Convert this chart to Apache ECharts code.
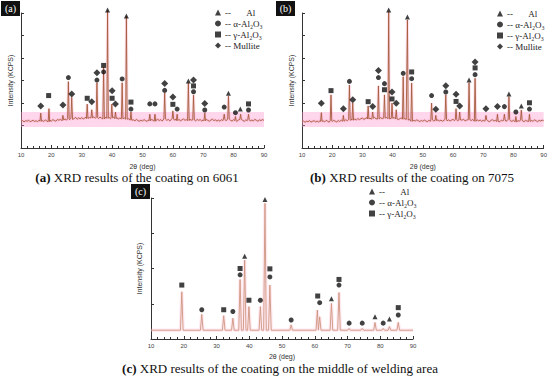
<!DOCTYPE html>
<html><head><meta charset="utf-8">
<script src="https://cdn.jsdelivr.net/npm/echarts@6/dist/echarts.min.js"></script>
<style>html,body{margin:0;padding:0;background:#fff}#c{width:550px;height:378px}</style>
</head><body><div id="c"></div>
<script>
// baseline samples from 10° to 90°, step 0.5°
const noiseA = [
1.18,1.22,1.16,1.21,1.19,1.24,1.17,1.20,1.23,1.18,
1.21,1.17,1.24,1.19,1.22,1.18,1.25,1.20,1.17,1.23,
1.20,1.26,1.22,1.19,1.27,1.23,1.28,1.21,1.25,1.29,
1.24,1.30,1.26,1.33,1.27,1.31,1.36,1.28,1.34,1.30,
1.35,1.29,1.33,1.38,1.31,1.36,1.30,1.34,1.39,1.32,
1.36,1.31,1.37,1.33,1.29,1.35,1.38,1.32,1.36,1.30,
1.34,1.38,1.31,1.35,1.29,1.33,1.37,1.30,1.34,1.28,
1.26,1.30,1.24,1.20,1.25,1.21,1.27,1.22,1.19,1.24,
1.20,1.26,1.22,1.18,1.25,1.21,1.27,1.23,1.19,1.24,
1.28,1.22,1.26,1.20,1.25,1.29,1.23,1.27,1.21,1.26,
1.30,1.24,1.28,1.22,1.27,1.21,1.25,1.29,1.23,1.26,
1.22,1.28,1.24,1.30,1.25,1.21,1.27,1.23,1.26,1.20,
1.25,1.21,1.27,1.23,1.19,1.24,1.28,1.22,1.25,1.20,
1.24,1.19,1.26,1.22,1.27,1.21,1.25,1.29,1.23,1.20,
1.26,1.22,1.18,1.24,1.21,1.27,1.23,1.19,1.25,1.22,
1.26,1.20,1.24,1.21,1.27,1.23,1.19,1.25,1.22,1.26,
1.23];
const noiseB = [
1.16,1.20,1.14,1.19,1.17,1.22,1.15,1.19,1.21,1.16,
1.20,1.15,1.22,1.18,1.21,1.16,1.23,1.19,1.15,1.21,
1.18,1.23,1.19,1.16,1.22,1.18,1.24,1.19,1.22,1.26,
1.21,1.27,1.23,1.28,1.24,1.29,1.25,1.31,1.26,1.30,
1.33,1.27,1.31,1.35,1.29,1.33,1.28,1.32,1.36,1.30,
1.34,1.29,1.35,1.31,1.28,1.33,1.36,1.30,1.34,1.29,
1.32,1.36,1.29,1.33,1.27,1.31,1.34,1.28,1.32,1.26,
1.24,1.28,1.22,1.19,1.23,1.20,1.25,1.21,1.18,1.22,
1.19,1.24,1.20,1.17,1.23,1.19,1.25,1.21,1.18,1.22,
1.25,1.20,1.24,1.19,1.23,1.27,1.21,1.25,1.20,1.24,
1.27,1.22,1.26,1.21,1.25,1.20,1.24,1.27,1.21,1.24,
1.21,1.26,1.22,1.27,1.23,1.19,1.25,1.21,1.24,1.19,
1.23,1.19,1.25,1.21,1.17,1.22,1.26,1.20,1.23,1.18,
1.22,1.17,1.24,1.20,1.25,1.19,1.23,1.27,1.21,1.18,
1.24,1.20,1.16,1.22,1.19,1.25,1.21,1.17,1.23,1.20,
1.24,1.18,1.22,1.19,1.25,1.21,1.17,1.23,1.20,1.24,
1.21];
const baselineC = [0.25, 0.25];

// peaks: [2θ, intensity]
const peaksA = [[16.5,1.55],[19.2,1.75],[23.8,1.45],[25.6,2.95],[26.7,2.25],[31.8,1.95],[33.3,1.7],[35.0,2.9],[37.2,3.6],[38.5,6.1],[39.9,1.95],[41.1,1.6],[43.3,2.9],[44.7,5.85],[46.2,1.6],[52.4,1.5],[54.1,1.5],[57.3,2.45],[60.0,1.65],[61.4,1.5],[65.1,2.9],[66.8,2.35],[70.5,1.55],[76.9,1.5],[78.3,2.3],[80.6,1.4],[82.3,1.5],[84.9,1.5]];
const peaksB = [[16.4,1.57],[19.6,2.36],[23.7,1.45],[25.7,2.8],[26.8,2.0],[31.9,1.87],[33.4,1.6],[35.3,2.76],[37.3,2.36],[38.7,6.06],[39.8,2.0],[41.2,1.7],[43.5,3.17],[44.9,5.69],[46.3,2.89],[52.9,2.0],[54.3,1.45],[57.6,2.36],[61.0,1.75],[62.2,1.6],[65.3,2.9],[67.3,3.1],[70.9,1.45],[74.7,1.5],[77.0,1.5],[78.5,2.28],[80.8,1.4],[82.6,1.69],[85.3,1.5]];
const peaksC = [[19.4,1.34],[25.5,0.70],[32.2,0.66],[35.0,0.59],[37.2,1.69],[38.6,2.24],[39.9,0.92],[43.4,0.92],[44.8,3.85],[46.3,1.53],[52.8,0.40],[60.8,0.82],[61.5,0.63],[65.1,1.01],[67.4,1.32],[70.5,0.30],[74.5,0.30],[78.4,0.47],[80.9,0.30],[82.8,0.35],[85.5,0.47]];

// phase markers: [2θ, marker height]
const alA = [[38.5,6.13],[44.7,5.87],[65.1,2.98],[78.3,2.43],[82.2,1.73]];
const alphaA = [[25.6,3.13],[35.0,3.02],[37.2,3.38],[43.3,3.07],[46.2,1.73],[52.4,1.96],[54.1,1.96],[57.3,2.56],[61.4,1.73],[66.8,2.5],[70.5,1.69],[76.9,1.82],[80.6,1.57],[84.9,1.69]];
const gammaA = [[19.1,2.33],[31.8,2.21],[37.2,3.67],[40.0,2.21],[46.2,2.04],[60.0,1.94],[66.8,2.76],[84.9,1.96]];
const mulliteA = [[16.5,1.87],[23.8,1.91],[26.7,2.4],[33.3,2.06],[35.0,3.35],[40.0,2.55],[41.1,1.96],[57.3,2.87],[60.0,2.27],[66.8,3.02],[70.5,1.98]];

const alB = [[38.7,6.13],[44.9,5.82],[65.3,3.02],[78.5,2.4],[82.6,1.87]];
const alphaB = [[25.7,2.96],[35.3,3.13],[37.3,2.86],[43.5,3.32],[46.3,3.08],[52.9,2.33],[57.6,2.49],[67.3,3.26],[77.0,1.84],[80.8,1.6],[85.3,1.73]];
const gammaB = [[19.6,2.55],[31.9,2.06],[37.3,2.59],[39.8,2.18],[46.3,3.38],[61.0,2.07],[67.3,3.56],[85.3,2.01]];
const mulliteB = [[16.4,1.99],[23.7,1.75],[26.8,2.15],[33.4,1.84],[35.3,3.44],[39.8,2.49],[41.2,1.99],[54.3,1.72],[57.6,2.77],[61.0,2.39],[62.2,1.87],[67.3,3.82],[70.9,1.75],[74.7,1.84]];

const alC = [[38.6,2.35],[44.8,3.96],[65.1,1.14],[78.4,0.63],[82.8,0.57]];
const alphaC = [[25.5,0.83],[35.0,0.78],[37.2,1.82],[43.4,1.10],[46.3,1.76],[52.8,0.54],[61.5,1.03],[67.4,1.53],[70.5,0.45],[74.5,0.45],[80.9,0.45],[85.5,0.68]];
const gammaC = [[19.4,1.53],[32.2,0.83],[37.2,2.0],[39.9,1.10],[46.3,1.99],[60.9,1.22],[67.4,1.69],[85.5,0.89]];

const xTickValues = [10,20,30,40,50,60,70,80,90];
const phaseNames = ['Al','α-Al₂O₃','γ-Al₂O₃','Mullite'];
const captions = ['XRD results of the coating on 6061','XRD results of the coating on 7075','XRD results of the coating on the middle of welding area'];

// ---- build profiles from the samples and peaks ----
function profile(noise, start, step, peaks, hw) {
  const pts = [];
  noise.forEach((v, i) => {
    const x = start + i * step;
    if (!peaks.some(p => Math.abs(p[0] - x) < hw + 0.05)) pts.push([x, v]);
  });
  peaks.forEach(p => {
    const i = Math.min(noise.length - 1, Math.max(0, Math.round((p[0] - start) / step)));
    const b = noise[i];
    pts.push([p[0] - hw, b], [p[0], p[1]], [p[0] + hw, b]);
  });
  pts.sort((a, b) => a[0] - b[0]);
  return pts;
}
const profA = profile(noiseA, 10, 0.5, peaksA, 0.25);
const profB = profile(noiseB, 10, 0.5, peaksB, 0.25);
const profC = profile(baselineC, 10, 80, peaksC, 0.4);

const chart = echarts.init(document.getElementById('c'), null, {renderer: 'svg'});
const axColor = '#333';
function xAx(gi, gap) {
  return {gridIndex: gi, type: 'value', min: 10, max: 90, interval: 10,
    axisLine: {show: true, lineStyle: {color: axColor, width: 1}},
    axisTick: {show: true, inside: true, length: 3, lineStyle: {color: axColor}},
    minorTick: {show: true, splitNumber: 5, length: 2, lineStyle: {color: axColor}},
    splitLine: {show: false},
    axisLabel: {fontSize: 6, color: '#444', margin: 4, fontFamily: 'Liberation Sans',
      formatter: v => xTickValues.includes(v) ? String(v) : ''},
    name: '2θ (deg)', nameLocation: 'middle', nameGap: gap,
    nameTextStyle: {fontSize: 7, color: '#333', fontFamily: 'Liberation Sans'}};
}
function yAx(gi, max, gap) {
  return {gridIndex: gi, type: 'value', min: 0, max: max, interval: 1,
    axisLine: {show: true, lineStyle: {color: axColor, width: 1}},
    axisTick: {show: true, inside: true, length: 3, lineStyle: {color: axColor}},
    splitLine: {show: false}, axisLabel: {show: false},
    name: 'Intensity (KCPS)', nameLocation: 'middle', nameGap: gap, nameRotate: 90,
    nameTextStyle: {fontSize: 7, color: '#333', fontFamily: 'Liberation Sans'}};
}
function glow(gi, data, w, col) {
  return {type: 'line', xAxisIndex: gi, yAxisIndex: gi, data: data, symbol: 'none', silent: true,
    clip: false, lineStyle: {width: w, color: col}, z: 1, animation: false};
}
function trace(gi, data, col, band) {
  const s = {type: 'line', xAxisIndex: gi, yAxisIndex: gi, data: data, symbol: 'none', silent: true,
    clip: false, lineStyle: {width: 0.9, color: col}, z: 2, animation: false};
  if (band) s.markArea = {silent: true, itemStyle: {color: 'rgba(255,150,205,0.38)'},
    data: [[{yAxis: 0.93, xAxis: 10}, {yAxis: 1.6, xAxis: 90}]]};
  return s;
}
const symbols = {'Al': ['triangle', 5], 'α-Al₂O₃': ['circle', 5], 'γ-Al₂O₃': ['rect', 5], 'Mullite': ['diamond', 7]};
function marks(gi, name, data) {
  return {type: 'scatter', name: name, xAxisIndex: gi, yAxisIndex: gi, data: data,
    symbol: symbols[name][0], symbolSize: symbols[name][1], clip: false,
    itemStyle: {color: '#111'}, z: 5, animation: false};
}
const legendFmt = n => n === 'Al' ? '--       Al' : '-- ' + n;
function leg(left, top, names) {
  return {data: names, left: left, top: top, orient: 'vertical', itemWidth: 6, itemHeight: 6,
    itemGap: 2, selectedMode: false, formatter: legendFmt, padding: 0,
    textStyle: {fontFamily: 'Liberation Serif', fontSize: 9, color: '#222', padding: [0, 0, 0, -1]}};
}
function tag(x, y, w, h, t) {
  return [{type: 'rect', left: x, top: y, shape: {width: w, height: h}, style: {fill: '#111'}},
    {type: 'text', x: x + w / 2, y: y + h / 2, style: {text: t, fill: '#fff', font: '10px "Liberation Serif"',
      textAlign: 'center', textVerticalAlign: 'middle'}}];
}
function cap(x, y, t, body) {
  return {type: 'text', x: x, y: y, style: {text: '{b|' + t + '} ' + body, textAlign: 'center',
    textVerticalAlign: 'middle', font: '13px "Liberation Serif"', fill: '#111',
    rich: {b: {fontWeight: 'bold', fontSize: 13, fontFamily: 'Liberation Serif', fill: '#111'}}}};
}

chart.setOption({
  animation: false,
  grid: [
    {left: 21, top: 13, width: 243, height: 135},
    {left: 302, top: 13, width: 242, height: 135},
    {left: 151, top: 198, width: 262, height: 141}
  ],
  xAxis: [xAx(0, 15), xAx(1, 15), xAx(2, 14)],
  yAxis: [yAx(0, 6, 7), yAx(1, 6, 7), yAx(2, 4, 8)],
  legend: [leg(215, 8, phaseNames), leg(497, 9, phaseNames), leg(369, 187, phaseNames.slice(0, 3))],
  series: [
    glow(0, profA, 3, 'rgba(255,160,195,0.3)'), trace(0, profA, '#a55a3a', true),
    glow(1, profB, 3, 'rgba(255,160,195,0.3)'), trace(1, profB, '#a55a3a', true),
    glow(2, profC, 3.5, 'rgba(255,175,200,0.28)'), trace(2, profC, '#cf9580', false),
    marks(0, 'Al', alA), marks(0, 'α-Al₂O₃', alphaA), marks(0, 'γ-Al₂O₃', gammaA), marks(0, 'Mullite', mulliteA),
    marks(1, 'Al', alB), marks(1, 'α-Al₂O₃', alphaB), marks(1, 'γ-Al₂O₃', gammaB), marks(1, 'Mullite', mulliteB),
    marks(2, 'Al', alC), marks(2, 'α-Al₂O₃', alphaC), marks(2, 'γ-Al₂O₃', gammaC)
  ],
  graphic: [].concat(
    tag(1, 1, 19, 15, '(a)'), tag(276, 1, 19, 15, '(b)'), tag(131, 184, 19, 15, '(c)'),
    [cap(137, 177, '(a)', captions[0]), cap(412, 177, '(b)', captions[1]), cap(280, 368, '(c)', captions[2])]
  )
});
</script></body></html>
